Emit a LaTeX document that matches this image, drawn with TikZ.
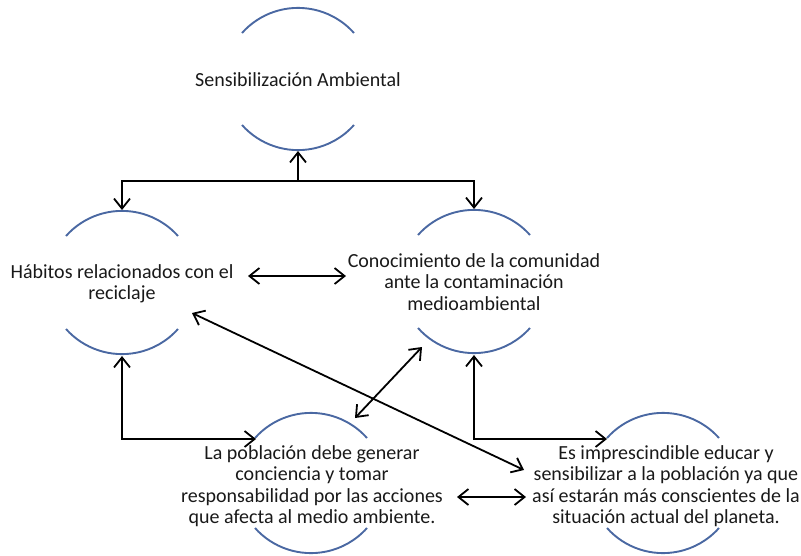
\documentclass[tikz,border=0pt]{standalone}
\usepackage{fontspec}
\setmainfont{Carlito}
\usetikzlibrary{arrows.meta}
\definecolor{arcblue}{RGB}{74,104,162}
\tikzset{
  arcline/.style={draw=arcblue,line width=1.9pt},
  tip/.style={Straight Barb[length=10pt,width=16pt]},
  conn/.style={draw=black,line width=1.8pt,-{Straight Barb[length=10pt,width=16pt]}},
  dconn/.style={draw=black,line width=1.8pt,{Straight Barb[length=10pt,width=16pt]}-{Straight Barb[length=10pt,width=16pt]}},
  lbl/.style={align=center,font=\fontsize{20}{21.5}\selectfont,inner sep=0pt,text=black!90}
}
\newcommand{\twoarcs}[3]{%
  \draw[arcline] (#1-56,#2+25) arc[start angle=138.3,end angle=41.7,radius=75pt];
  \draw[arcline] (#1-56,#3-25) arc[start angle=221.7,end angle=318.3,radius=75pt];
}
\begin{document}
\begin{tikzpicture}[x=1pt,y=-1pt]
\useasboundingbox (0,0) rectangle (801,555);
% arcs
\twoarcs{298}{8}{150}
\twoarcs{122}{211}{354}
\twoarcs{474}{210}{353}
\twoarcs{311}{413}{553}
\twoarcs{663}{413}{553}
% texts
\node[lbl] (n1) at (298,80) {Sensibilización Ambiental};
\node[lbl] (n2) at (122,284) {Hábitos relacionados con el\\reciclaje};
\node[lbl] (n3) at (474,282) {Conocimiento de la comunidad\\ante la contaminación\\medioambiental};
\node[lbl] (n4) at (312,486) {La población debe generar\\conciencia y tomar\\responsabilidad por las acciones\\que afecta al medio ambiente.};
\node[lbl] (n5) at (666,486) {Es imprescindible educar y\\sensibilizar a la población ya que\\así estarán más conscientes de la\\situación actual del planeta.};
% connector points
\coordinate (n1b) at (298,151);
\coordinate (j) at (298,181);
\coordinate (n2t) at (122,210);
\coordinate (n3t) at (474,209);
\coordinate (n2r) at (248,276);
\coordinate (n3l) at (346,276);
\coordinate (n2b) at (122,356);
\coordinate (n4l) at (256,439);
\coordinate (n3b) at (474,355);
\coordinate (n5l) at (607,439);
\coordinate (n3bl) at (422,347);
\coordinate (n4tr) at (355,418);
\coordinate (n2br) at (192,313);
\coordinate (n5w) at (524,470);
\coordinate (n4r) at (457,497);
\coordinate (n5r) at (526,497);
% connectors
\draw[conn] (j) -- (n1b);
\draw[conn] (j) -| (n2t);
\draw[conn] (j) -| (n3t);
\draw[dconn] (n2r) -- (n3l);
\draw[dconn] (n2b) |- (n4l);
\draw[dconn] (n3b) |- (n5l);
\draw[dconn] (n3bl) -- (n4tr);
\draw[dconn] (n2br) -- (n5w);
\draw[dconn] (n4r) -- (n5r);
\end{tikzpicture}
\end{document}
